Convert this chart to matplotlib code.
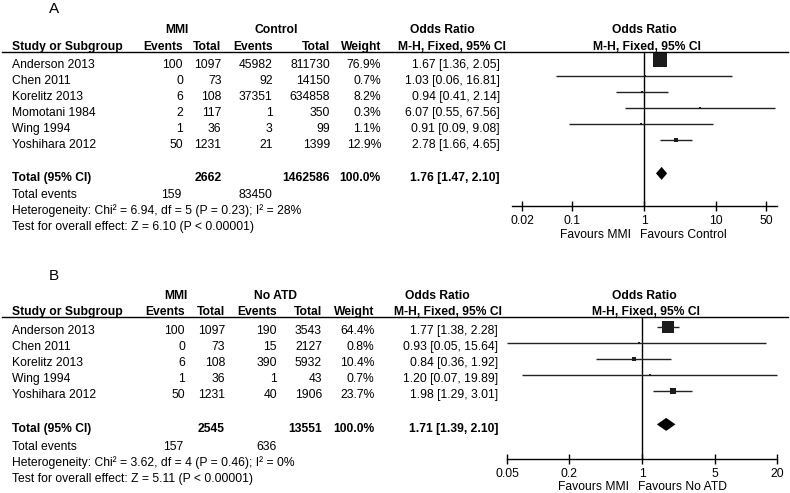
import matplotlib
matplotlib.use("Agg")
import matplotlib.pyplot as plt

plt.rcParams['font.family'] = ['Liberation Sans', 'DejaVu Sans']

# ---------------- Data: panel A (MMI vs Control) ----------------
studies_a = ["Anderson 2013", "Chen 2011", "Korelitz 2013", "Momotani 1984", "Wing 1994", "Yoshihara 2012"]
mmi_events_a = [100, 0, 6, 2, 1, 50]
mmi_total_a = [1097, 73, 108, 117, 36, 1231]
ctl_events_a = [45982, 92, 37351, 1, 3, 21]
ctl_total_a = [811730, 14150, 634858, 350, 99, 1399]
weight_a = [76.9, 0.7, 8.2, 0.3, 1.1, 12.9]
or_a = [1.67, 1.03, 0.94, 6.07, 0.91, 2.78]
lo_a = [1.36, 0.06, 0.41, 0.55, 0.09, 1.66]
hi_a = [2.05, 16.81, 2.14, 67.56, 9.08, 4.65]
pooled_a = [1.76, 1.47, 2.10]
sum_mmi_total_a = 2662
sum_ctl_total_a = 1462586
sum_mmi_events_a = 159
sum_ctl_events_a = 83450
het_a = "Heterogeneity: Chi\u00b2 = 6.94, df = 5 (P = 0.23); I\u00b2 = 28%"
test_a = "Test for overall effect: Z = 6.10 (P < 0.00001)"
ticks_a = [0.02, 0.1, 1, 10, 50]
tick_labels_a = ["0.02", "0.1", "1", "10", "50"]
group2_a = "Control"
fav_right_a = "Favours Control"

# ---------------- Data: panel B (MMI vs No ATD) ----------------
studies_b = ["Anderson 2013", "Chen 2011", "Korelitz 2013", "Wing 1994", "Yoshihara 2012"]
mmi_events_b = [100, 0, 6, 1, 50]
mmi_total_b = [1097, 73, 108, 36, 1231]
ctl_events_b = [190, 15, 390, 1, 40]
ctl_total_b = [3543, 2127, 5932, 43, 1906]
weight_b = [64.4, 0.8, 10.4, 0.7, 23.7]
or_b = [1.77, 0.93, 0.84, 1.20, 1.98]
lo_b = [1.38, 0.05, 0.36, 0.07, 1.29]
hi_b = [2.28, 15.64, 1.92, 19.89, 3.01]
pooled_b = [1.71, 1.39, 2.10]
sum_mmi_total_b = 2545
sum_ctl_total_b = 13551
sum_mmi_events_b = 157
sum_ctl_events_b = 636
het_b = "Heterogeneity: Chi\u00b2 = 3.62, df = 4 (P = 0.46); I\u00b2 = 0%"
test_b = "Test for overall effect: Z = 5.11 (P < 0.00001)"
ticks_b = [0.05, 0.2, 1, 5, 20]
tick_labels_b = ["0.05", "0.2", "1", "5", "20"]
group2_b = "No ATD"
fav_right_b = "Favours No ATD"

W, H = 790, 493
FS = 8.7
CAP = 4.3  # half cap height in px

fig = plt.figure(figsize=(W / 100, H / 100), dpi=100)
bg = fig.add_axes([0, 0, 1, 1])
bg.set_xlim(0, W)
bg.set_ylim(H, 0)
bg.axis('off')


def txt(x, y, s, ha='left', bold=False, size=FS):
    bg.text(x, y + CAP * size / FS, s, ha=ha, va='baseline', fontsize=size,
            fontweight='bold' if bold else 'normal', color='black')


def panel(label, L, studies, me, mt, ce, ct, wt, orv, lo, hi, pooled,
          smt, sct, sme, sce, het, test, ticks, tlabels, group2, fav_right):
    txt(L['label_x'], L['label_y'], label, size=11)
    # header row 1
    txt(L['mmi_c'], L['h1'], "MMI", ha='center', bold=True)
    txt(L['grp_c'], L['h1'], group2, ha='center', bold=True)
    txt(L['or_h1'], L['h1'], "Odds Ratio", ha='center', bold=True)
    txt(L['pc'], L['h1'], "Odds Ratio", ha='center', bold=True)
    # header row 2
    txt(12, L['h2'], "Study or Subgroup", bold=True)
    txt(L['c1'], L['h2'], "Events", ha='right', bold=True)
    txt(L['c2'], L['h2'], "Total", ha='right', bold=True)
    txt(L['c3'], L['h2'], "Events", ha='right', bold=True)
    txt(L['c4'], L['h2'], "Total", ha='right', bold=True)
    txt(L['c5'], L['h2'], "Weight", ha='right', bold=True)
    txt(L['or_h2'], L['h2'], "M-H, Fixed, 95% CI", ha='right', bold=True)
    txt(L['pc2'], L['h2'], "M-H, Fixed, 95% CI", ha='center', bold=True)
    bg.plot([2, 788], [L['line'], L['line']], color='black', lw=1.0)

    rows = [L['r0'] + L['step'] * i for i in range(len(studies))]
    for i, y in enumerate(rows):
        txt(12, y, studies[i])
        txt(L['c1'], y, str(me[i]), ha='right')
        txt(L['c2'], y, str(mt[i]), ha='right')
        txt(L['c3'], y, str(ce[i]), ha='right')
        txt(L['c4'], y, str(ct[i]), ha='right')
        txt(L['c5'], y, f"{wt[i]:.1f}%", ha='right')
        txt(L['orx'], y, f"{orv[i]:.2f} [{lo[i]:.2f}, {hi[i]:.2f}]", ha='right')
    yt = L['tot']
    txt(12, yt, "Total (95% CI)", bold=True)
    txt(L['c2'], yt, str(smt), ha='right', bold=True)
    txt(L['c4'], yt, str(sct), ha='right', bold=True)
    txt(L['c5'], yt, "100.0%", ha='right', bold=True)
    txt(L['orx'], yt, f"{pooled[0]:.2f} [{pooled[1]:.2f}, {pooled[2]:.2f}]", ha='right', bold=True)
    txt(12, L['tev'], "Total events")
    txt(L['c1'] - 2, L['tev'], str(sme), ha='right')
    txt(L['c3'], L['tev'], str(sce), ha='right')
    txt(12, L['het'], het)
    txt(12, L['test'], test)

    # forest axes (x: log OR, y: pixel rows)
    x0, x1 = L['ax_x0'], L['ax_x1']
    top, bot = L['line'], L['axis_y']
    ax = fig.add_axes([x0 / W, 1 - bot / H, (x1 - x0) / W, (bot - top) / H])
    ax.set_xscale('log')
    ax.set_xlim(L['xlim'])
    ax.set_ylim(bot, top)
    ax.patch.set_alpha(0)
    for s in ['top', 'left', 'right']:
        ax.spines[s].set_visible(False)
    ax.spines['bottom'].set_linewidth(1.0)
    ax.set_yticks([])
    ax.set_xticks(ticks)
    ax.set_xticklabels(tlabels, fontsize=FS)
    ax.xaxis.set_minor_locator(matplotlib.ticker.NullLocator())
    ax.tick_params(axis='x', direction='inout', length=6.5, width=1.0, pad=3.5)
    ax.axvline(1, color='black', lw=1.0)

    for i, y in enumerate(rows):
        ym = y - 3.3
        ax.hlines(ym, lo[i], hi[i], color='#222222', lw=1.0, clip_on=False)
        side = max(0.59 * wt[i] ** 0.73, 2.0)
        ax.scatter([orv[i]], [ym], marker='s', s=(side * 0.72) ** 2,
                   color='#1c1c1c', linewidths=0, zorder=3, clip_on=False)
    yd = yt - 3.3
    hd = 6.5
    ax.fill([pooled[1], pooled[0], pooled[2], pooled[0]],
            [yd, yd - hd, yd, yd + hd], color='black', lw=0, zorder=4, clip_on=False)

    c = L['pcx']
    txt(c - 13, L['fav'], "Favours MMI", ha='right')
    txt(c - 4, L['fav'], fav_right, ha='left')


LA = dict(label_x=49, label_y=8, h1=29, h2=45.5, line=52.2,
          mmi_c=177, grp_c=276, or_h1=442, pc=644, pc2=647, or_h2=506,
          c1=183, c2=221.5, c3=272.5, c4=330, c5=381, orx=500,
          r0=63.3, step=16.0, tot=176.7, tev=194, het=210, test=226,
          ax_x0=512, ax_x1=777, axis_y=205.7, pcx=644, fav=233.3,
          xlim=(10 ** ((512 - 644) / 71.7), 10 ** ((777 - 644) / 71.7)))
LB = dict(label_x=49, label_y=275, h1=295, h2=311, line=317,
          mmi_c=176, grp_c=276, or_h1=437, pc=644.5, pc2=646, or_h2=502,
          c1=185, c2=225, c3=277, c4=322, c5=374.5, orx=498,
          r0=330, step=16.0, tot=427.7, tev=445.7, het=461.7, test=477.5,
          ax_x0=507, ax_x1=777, axis_y=459, pcx=642, fav=485.8,
          xlim=(0.05, 20))

panel("A", LA, studies_a, mmi_events_a, mmi_total_a, ctl_events_a, ctl_total_a,
      weight_a, or_a, lo_a, hi_a, pooled_a, sum_mmi_total_a, sum_ctl_total_a,
      sum_mmi_events_a, sum_ctl_events_a, het_a, test_a, ticks_a, tick_labels_a,
      group2_a, fav_right_a)
panel("B", LB, studies_b, mmi_events_b, mmi_total_b, ctl_events_b, ctl_total_b,
      weight_b, or_b, lo_b, hi_b, pooled_b, sum_mmi_total_b, sum_ctl_total_b,
      sum_mmi_events_b, sum_ctl_events_b, het_b, test_b, ticks_b, tick_labels_b,
      group2_b, fav_right_b)

fig.savefig("out.png", dpi=100, facecolor='white')
